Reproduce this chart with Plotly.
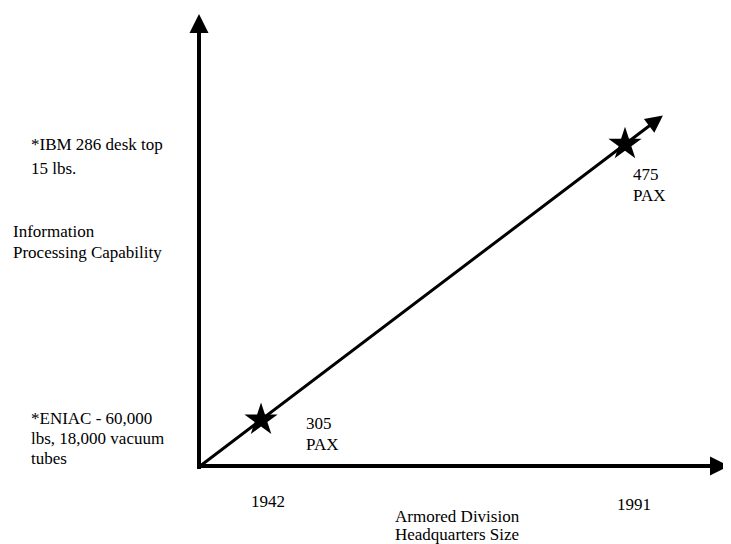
import plotly.graph_objects as go

# ---- data ----
years = [1942, 1991]
capability = [10.2, 71.2]          # relative information-processing capability (index)
hq_size = ["305", "475"]            # armored division HQ size (PAX)
year_labels = ["1942", "1991"]
y_low_label = ["*ENIAC - 60,000", "lbs, 18,000 vacuum", "tubes"]
y_high_label = ["*IBM 286 desk top", "15 lbs."]
y_title = ["Information", "Processing Capability"]
x_title = ["Armored Division", "Headquarters Size"]

OFF = 8                      # page body margin of the browser
W, H = 731 - OFF, 544 - OFF
L, R, T, B = 199 - OFF, 2, 14 - OFF, 78
pw, ph = W - L - R, H - T - B
x_rng = [1933.65, 2005.0]
y_rng = [0, 100]

FONT = "Liberation Serif, Times New Roman, serif"
FS = 17

def px(xp):
    return (xp - OFF - L) / pw

def py(yp):
    return (H - B - (yp - OFF)) / ph

fig = go.Figure()

fig.add_trace(go.Scatter(
    x=years, y=capability, mode="markers",
    marker=dict(symbol="star", size=25, color="black", line=dict(width=0)),
    cliponaxis=False, showlegend=False, hoverinfo="skip"))

# trend arrow extended beyond the 1991 point
slope = (capability[1] - capability[0]) / (years[1] - years[0])
x_tip = 1996.1
y_tip = capability[0] + (x_tip - years[0]) * slope
x0 = x_rng[0]
y0 = capability[0] + (x0 - years[0]) * slope

ann = []
# axes as arrows
ann.append(dict(x=x_rng[1], y=0, ax=x_rng[0] - 0.3, ay=0, xref="x", yref="y", axref="x", ayref="y",
                text="", showarrow=True, arrowhead=2, arrowwidth=4, arrowsize=0.95,
                arrowcolor="black", standoff=0, startstandoff=0))
ann.append(dict(x=x_rng[0], y=y_rng[1], ax=x_rng[0], ay=-1.0, xref="x", yref="y", axref="x", ayref="y",
                text="", showarrow=True, arrowhead=2, arrowwidth=4, arrowsize=0.95,
                arrowcolor="black", standoff=0, startstandoff=0))
ann.append(dict(x=x_tip, y=y_tip, ax=x0, ay=y0, xref="x", yref="y", axref="x", ayref="y",
                text="", showarrow=True, arrowhead=2, arrowwidth=3, arrowsize=1.15,
                arrowcolor="black", standoff=0, startstandoff=0))

def txt(s, xp, yp, xanchor="left"):
    ann.append(dict(text=s, x=px(xp), y=py(yp), xref="paper", yref="paper",
                    xanchor=xanchor, yanchor="middle", showarrow=False, borderpad=0,
                    font=dict(family=FONT, size=FS, color="black")))

for s, yp in zip(y_high_label, [145, 168]):
    txt(s, 30, yp)
for s, yp in zip(y_title, [231, 252]):
    txt(s, 12, yp)
for s, yp in zip(y_low_label, [418, 438, 458]):
    txt(s, 30, yp)

# point labels
txt(hq_size[0], 305, 423)
txt("PAX", 305, 444)
txt(hq_size[1], 632, 174)
txt("PAX", 632, 195)

# year labels
txt(year_labels[0], 268, 501, "center")
txt(year_labels[1], 634, 504, "center")

txt(x_title[0], 394, 517)
txt(x_title[1], 394, 534)

fig.update_layout(
    width=W, height=H, margin=dict(l=L, r=R, t=T, b=B),
    paper_bgcolor="white", plot_bgcolor="white",
    xaxis=dict(range=x_rng, visible=False, fixedrange=True),
    yaxis=dict(range=y_rng, visible=False, fixedrange=True),
    annotations=ann, showlegend=False)

fig.write_html("out.html")
